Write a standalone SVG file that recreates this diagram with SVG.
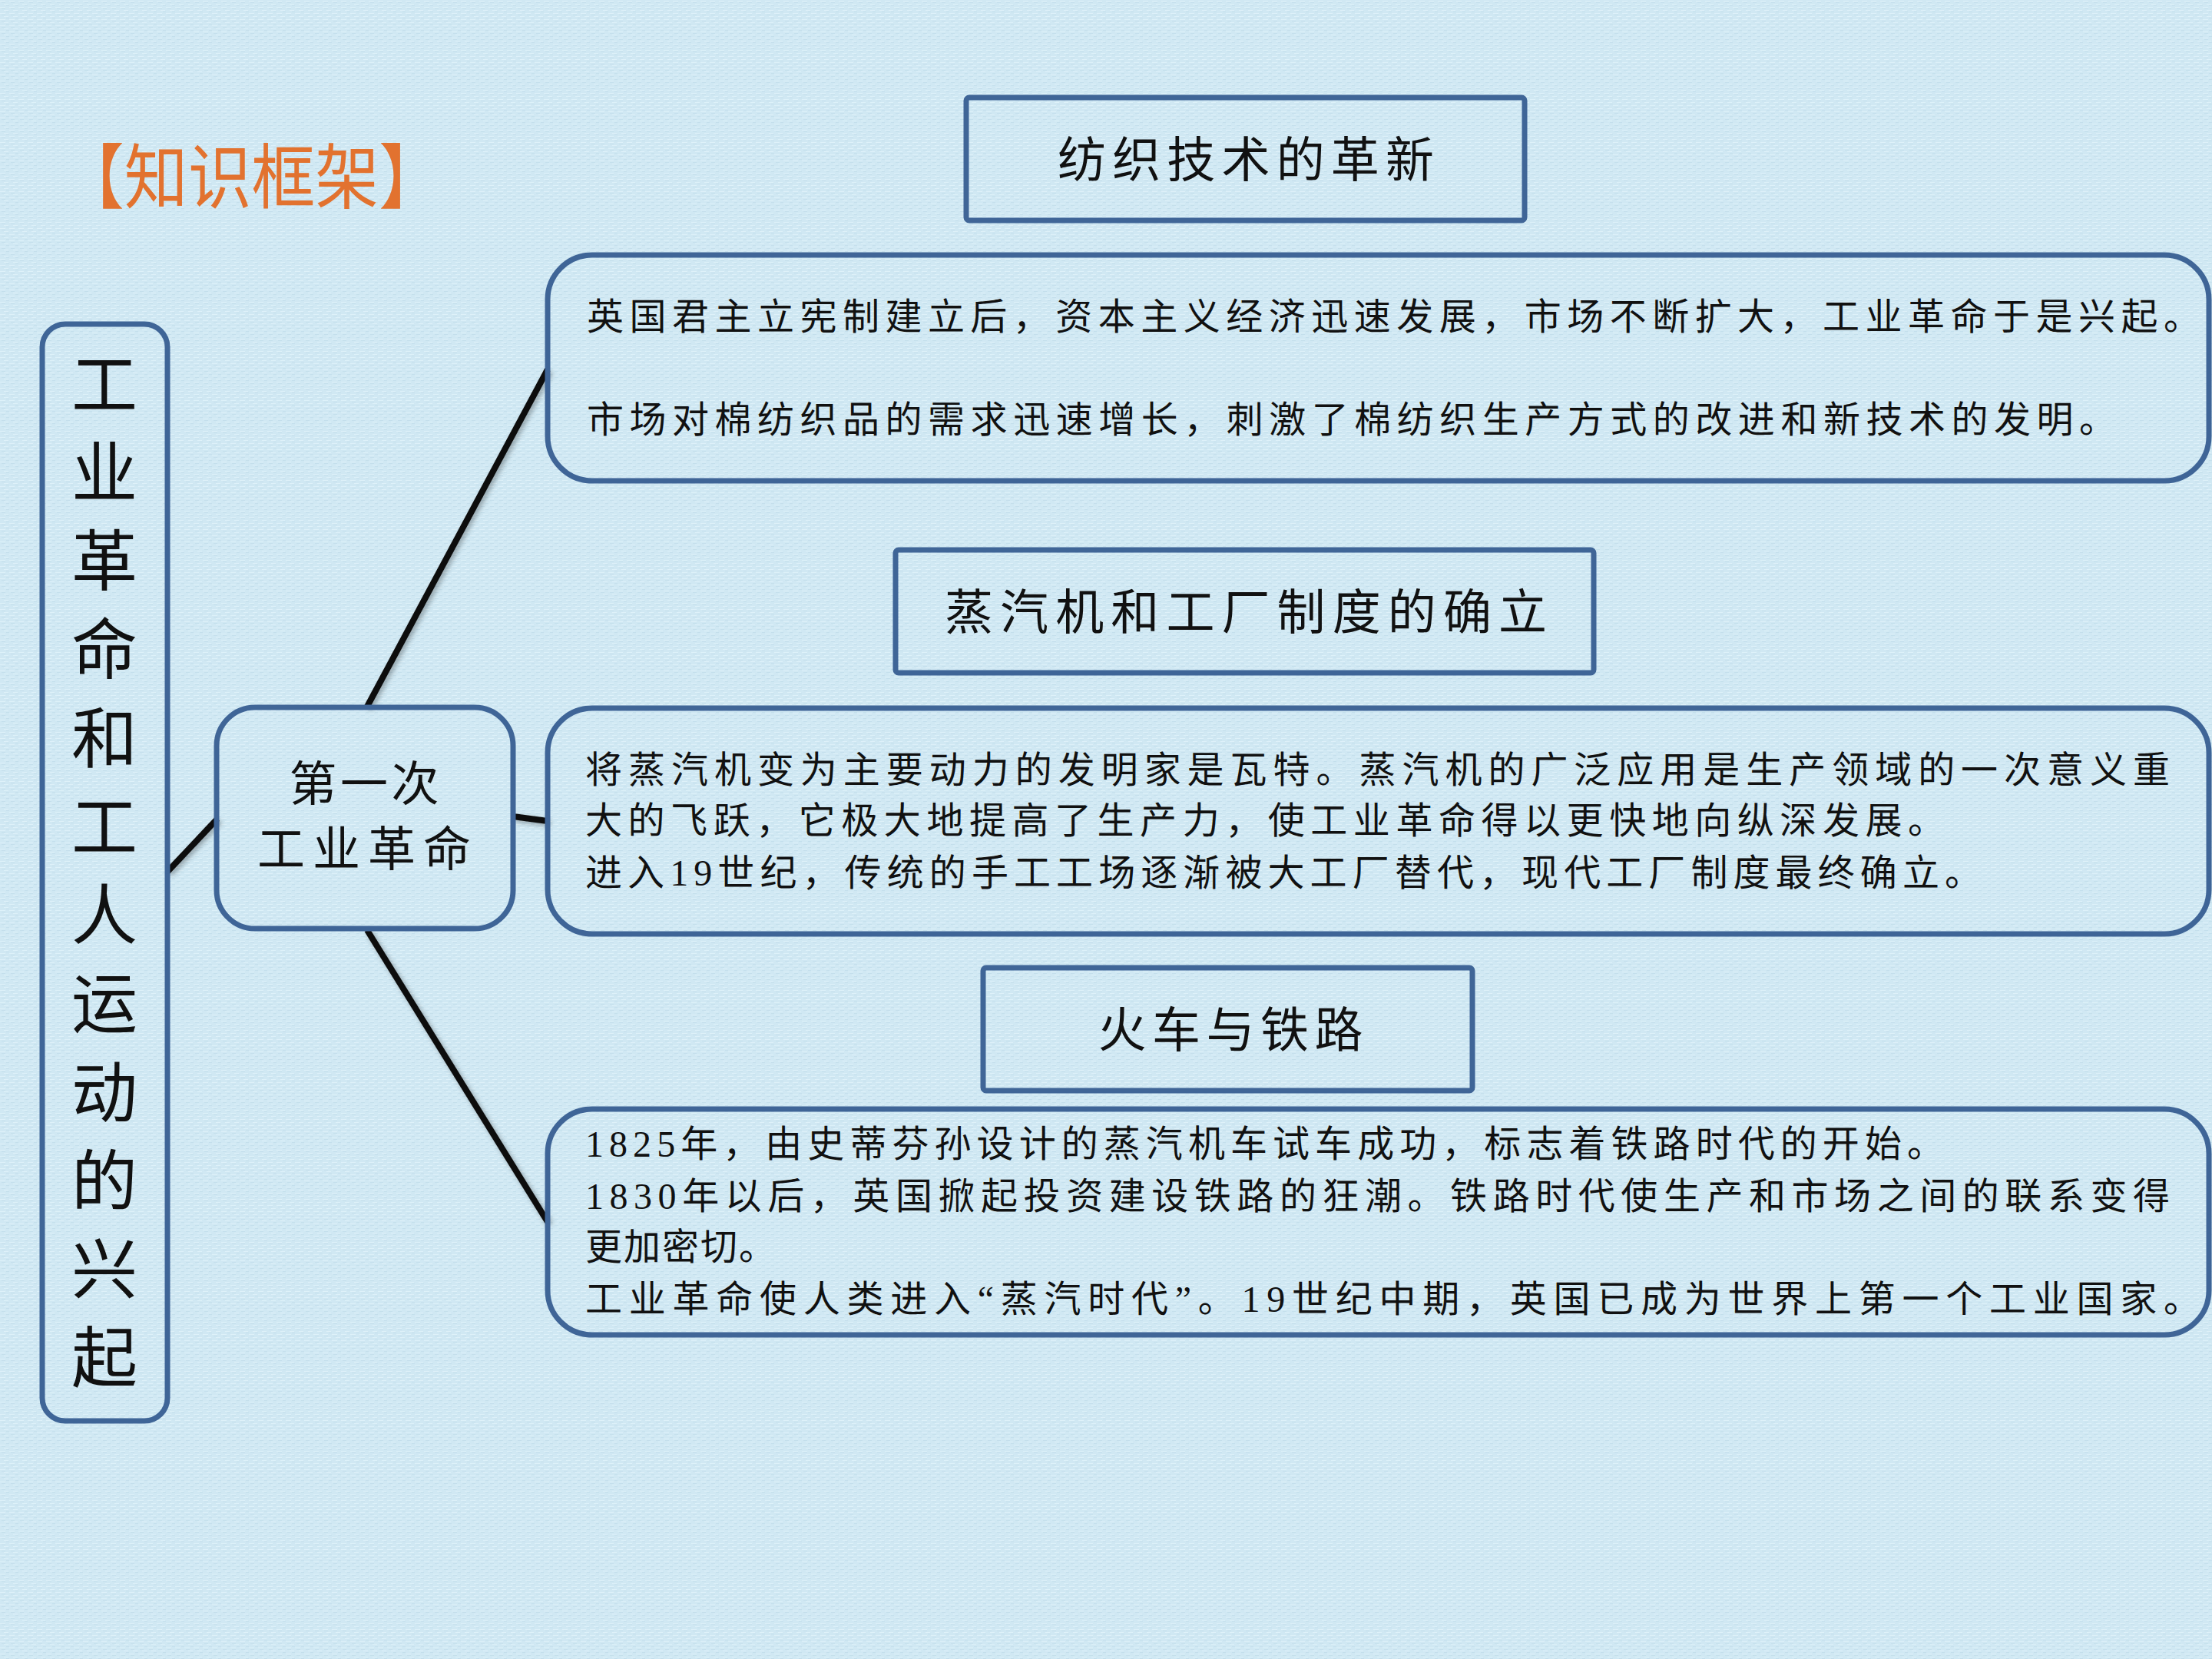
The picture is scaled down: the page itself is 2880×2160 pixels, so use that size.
<svg xmlns="http://www.w3.org/2000/svg" width="2880" height="2160" viewBox="0 0 2880 2160">
<defs>
<pattern id="tex" width="12" height="8" patternUnits="userSpaceOnUse">
<rect width="12" height="8" fill="#D0E8F3"/>
<rect x="0" y="1" width="7" height="1" fill="#DEF1F9"/>
<rect x="5" y="5" width="6" height="1" fill="#DEF1F9"/>
<rect x="2" y="3" width="5" height="1" fill="#C4DFEC"/>
<rect x="8" y="7" width="4" height="1" fill="#C4DFEC"/>
</pattern>
<filter id="sh" x="-10%" y="-10%" width="120%" height="120%">
<feDropShadow dx="3" dy="3" stdDeviation="3" flood-color="#000" flood-opacity="0.3"/>
</filter>
<style>
.box{fill:none;stroke:#3F6597;stroke-width:7}
.cn{font-family:"Liberation Serif","Noto Sans CJK SC",serif;fill:#111}
.body{font-size:48px}
.head{font-size:63px;text-anchor:middle}
.con{stroke:#111;stroke-width:8;stroke-linecap:butt;fill:none}
</style>
</defs>
<rect width="2880" height="2160" fill="url(#tex)"/>

<text x="79" y="264" font-family="'Noto Sans CJK SC',sans-serif" font-size="92" fill="#E2722F" textLength="497" lengthAdjust="spacingAndGlyphs">【知识框架】</text>

<g id="connectors" filter="url(#sh)">
<line class="con" x1="218" y1="1135" x2="283" y2="1066"/>
<line class="con" x1="478" y1="920" x2="713" y2="481"/>
<line class="con" x1="668" y1="1063" x2="713" y2="1069"/>
<line class="con" x1="478" y1="1211" x2="713" y2="1591"/>
</g>

<g id="root">
<rect class="box" x="55" y="422" width="163" height="1428" rx="30"/>
<g class="cn" font-size="86" text-anchor="middle">
<text x="136" y="532">工</text>
<text x="136" y="647">业</text>
<text x="136" y="762">革</text>
<text x="136" y="877">命</text>
<text x="136" y="993">和</text>
<text x="136" y="1108">工</text>
<text x="136" y="1223">人</text>
<text x="136" y="1338">运</text>
<text x="136" y="1454">动</text>
<text x="136" y="1569">的</text>
<text x="136" y="1684">兴</text>
<text x="136" y="1799">起</text>
</g>
</g>

<g id="node-first">
<rect class="box" x="282" y="921" width="386" height="288" rx="50"/>
<text class="cn" x="474" y="1043" font-size="62" text-anchor="middle" textLength="195">第一次</text>
<text class="cn" x="474" y="1128" font-size="62" text-anchor="middle" textLength="278">工业革命</text>
</g>

<g id="head-textile">
<rect class="box" x="1258" y="127" width="727" height="160" rx="4"/>
<text class="cn head" x="1622" y="230" textLength="490">纺织技术的革新</text>
</g>

<g id="content-textile">
<rect class="box" x="713" y="332" width="2163" height="294" rx="58"/>
<text class="cn body" x="764" y="429" textLength="2101">英国君主立宪制建立后，资本主义经济迅速发展，市场不断扩大，工业革命于是兴起。</text>
<text class="cn body" x="764" y="563" textLength="1991">市场对棉纺织品的需求迅速增长，刺激了棉纺织生产方式的改进和新技术的发明。</text>
</g>

<g id="head-steam">
<rect class="box" x="1166" y="716" width="909" height="160" rx="4"/>
<text class="cn head" x="1622" y="819" textLength="784">蒸汽机和工厂制度的确立</text>
</g>

<g id="content-steam">
<rect class="box" x="713" y="922" width="2163" height="294" rx="58"/>
<text class="cn body" x="762" y="1019" textLength="2063">将蒸汽机变为主要动力的发明家是瓦特。蒸汽机的广泛应用是生产领域的一次意义重</text>
<text class="cn body" x="762" y="1085" textLength="1770">大的飞跃，它极大地提高了生产力，使工业革命得以更快地向纵深发展。</text>
<text class="cn body" x="762" y="1153" textLength="1818">进入19世纪，传统的手工工场逐渐被大工厂替代，现代工厂制度最终确立。</text>
</g>

<g id="head-rail">
<rect class="box" x="1280" y="1260" width="637" height="160" rx="4"/>
<text class="cn head" x="1602" y="1363" textLength="345">火车与铁路</text>
</g>

<g id="content-rail">
<rect class="box" x="713" y="1444" width="2163" height="294" rx="58"/>
<text class="cn body" x="762" y="1506" textLength="1769">1825年，由史蒂芬孙设计的蒸汽机车试车成功，标志着铁路时代的开始。</text>
<text class="cn body" x="762" y="1574" textLength="2063">1830年以后，英国掀起投资建设铁路的狂潮。铁路时代使生产和市场之间的联系变得</text>
<text class="cn body" x="762" y="1640" textLength="248">更加密切。</text>
<text class="cn body" x="762" y="1708" textLength="2103">工业革命使人类进入“蒸汽时代”。19世纪中期，英国已成为世界上第一个工业国家。</text>
</g>
</svg>
